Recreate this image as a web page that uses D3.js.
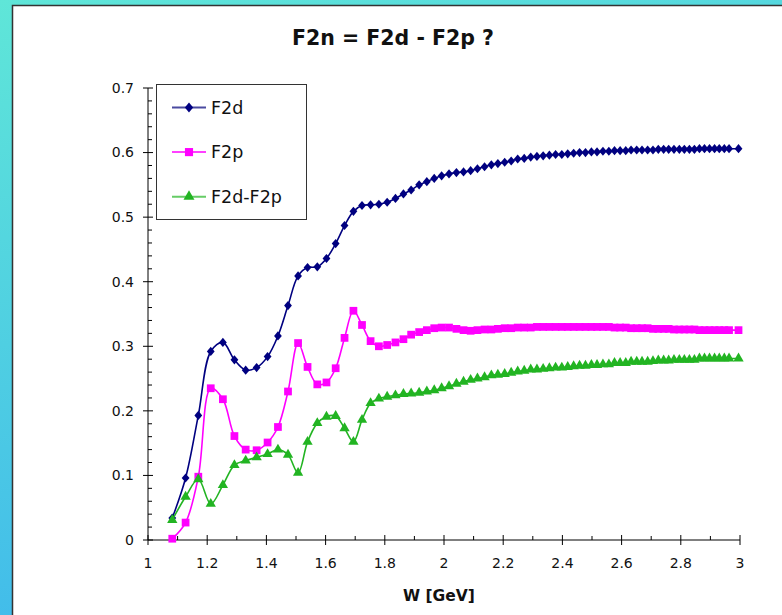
<!DOCTYPE html>
<html>
<head>
<meta charset="utf-8">
<script src="https://cdn.jsdelivr.net/npm/d3@7"></script>
<style>
  body { margin: 0; overflow: hidden; }
  svg { display: block; }
  text { font-family: "DejaVu Sans", Verdana, sans-serif; fill: #111; }
</style>
</head>
<body>
<script>
// W values [GeV]
var wValues = [1.082, 1.127, 1.170, 1.212, 1.253, 1.292, 1.330, 1.367, 1.404, 1.439,
  1.473, 1.507, 1.539, 1.572, 1.603, 1.634, 1.664, 1.694, 1.723, 1.752,
  1.780, 1.808, 1.836, 1.863, 1.889, 1.916, 1.942, 1.967, 1.992, 2.017,
  2.042, 2.066, 2.090, 2.113, 2.137, 2.160, 2.182, 2.205, 2.227, 2.249,
  2.271, 2.293, 2.314, 2.335, 2.356, 2.377, 2.398, 2.418, 2.438, 2.458,
  2.478, 2.498, 2.517, 2.537, 2.557, 2.576, 2.595, 2.614, 2.632, 2.651,
  2.669, 2.688, 2.706, 2.724, 2.742, 2.759, 2.777, 2.795, 2.812, 2.829,
  2.846, 2.863, 2.880, 2.897, 2.914, 2.930, 2.947, 2.963, 2.995];

var f2d = [0.034, 0.096, 0.193, 0.292, 0.306, 0.279, 0.263, 0.267, 0.284, 0.316,
  0.363, 0.409, 0.422, 0.423, 0.436, 0.459, 0.487, 0.509, 0.518, 0.519,
  0.520, 0.523, 0.529, 0.536, 0.542, 0.550, 0.555, 0.560, 0.564, 0.567,
  0.569, 0.570, 0.572, 0.575, 0.578, 0.581, 0.583, 0.585, 0.587, 0.590,
  0.591, 0.593, 0.594, 0.595, 0.596, 0.597, 0.597, 0.598, 0.599, 0.600,
  0.600, 0.601, 0.601, 0.602, 0.602, 0.603, 0.603, 0.603, 0.604, 0.604,
  0.604, 0.604, 0.604, 0.605, 0.605, 0.605, 0.605, 0.605, 0.605, 0.605,
  0.605, 0.606, 0.606, 0.606, 0.606, 0.606, 0.606, 0.606, 0.606];

var f2p = [0.002, 0.027, 0.098, 0.235, 0.218, 0.161, 0.140, 0.139, 0.151, 0.175,
  0.230, 0.305, 0.268, 0.241, 0.244, 0.266, 0.313, 0.355, 0.333, 0.308,
  0.300, 0.302, 0.306, 0.311, 0.318, 0.322, 0.325, 0.328, 0.329, 0.329,
  0.327, 0.325, 0.324, 0.325, 0.326, 0.326, 0.327, 0.328, 0.328, 0.329,
  0.329, 0.329, 0.330, 0.330, 0.330, 0.330, 0.330, 0.330, 0.330, 0.330,
  0.330, 0.330, 0.330, 0.330, 0.330, 0.329, 0.329, 0.329, 0.328, 0.328,
  0.328, 0.328, 0.327, 0.327, 0.327, 0.327, 0.326, 0.326, 0.326, 0.326,
  0.326, 0.325, 0.325, 0.325, 0.325, 0.325, 0.325, 0.325, 0.325];

var f2diff = [0.031, 0.067, 0.094, 0.056, 0.085, 0.116, 0.123, 0.128, 0.133, 0.140,
  0.132, 0.104, 0.152, 0.181, 0.191, 0.192, 0.173, 0.152, 0.186, 0.212,
  0.219, 0.222, 0.224, 0.226, 0.227, 0.228, 0.230, 0.232, 0.235, 0.238,
  0.242, 0.245, 0.248, 0.250, 0.252, 0.255, 0.256, 0.257, 0.259, 0.261,
  0.262, 0.264, 0.264, 0.265, 0.266, 0.267, 0.267, 0.268, 0.269, 0.270,
  0.270, 0.271, 0.271, 0.272, 0.272, 0.274, 0.274, 0.274, 0.276, 0.276,
  0.276, 0.276, 0.277, 0.278, 0.278, 0.278, 0.279, 0.279, 0.279, 0.279,
  0.279, 0.281, 0.281, 0.281, 0.281, 0.281, 0.281, 0.281, 0.281];

var seriesNames = ["F2d", "F2p", "F2d-F2p"];
var xTicks = [1, 1.2, 1.4, 1.6, 1.8, 2, 2.2, 2.4, 2.6, 2.8, 3];
var yTicks = [0, 0.1, 0.2, 0.3, 0.4, 0.5, 0.6, 0.7];

var width = 782, height = 615;
var plotLeft = 148, plotRight = 740, plotTop = 88, plotBottom = 540;

var svg = d3.select("body").append("svg")
  .attr("width", width)
  .attr("height", height);

// background gradient + white panel
var defs = svg.append("defs");
var grad = defs.append("linearGradient")
  .attr("id", "bg").attr("x1", "0").attr("y1", "0").attr("x2", "0.35").attr("y2", "1");
grad.append("stop").attr("offset", "0%").attr("stop-color", "#5fe6d8");
grad.append("stop").attr("offset", "100%").attr("stop-color", "#3fb8ec");

svg.append("rect").attr("width", width).attr("height", height).attr("fill", "url(#bg)");
svg.append("rect")
  .attr("x", 12.5).attr("y", 5.5)
  .attr("width", width).attr("height", height)
  .attr("fill", "#fff").attr("stroke", "#333").attr("stroke-width", 1.5);

var x = d3.scaleLinear().domain([1, 3]).range([plotLeft, plotRight]);
var y = d3.scaleLinear().domain([0, 0.7]).range([plotBottom, plotTop]);

// title
svg.append("text")
  .attr("x", 393).attr("y", 45)
  .attr("text-anchor", "middle")
  .style("font-size", "20.5px").style("font-weight", "bold")
  .text("F2n = F2d - F2p ?");

svg.append("text")
  .attr("x", 439).attr("y", 601)
  .attr("text-anchor", "middle")
  .style("font-size", "15.5px").style("font-weight", "bold")
  .text("W [GeV]");

// x axis line
svg.append("line")
  .attr("x1", plotLeft).attr("x2", plotRight).attr("y1", plotBottom).attr("y2", plotBottom)
  .attr("stroke", "#000");

// minor x ticks (above axis)
svg.append("g").selectAll("line")
  .data(d3.range(11, 30, 2).map(function(d) { return d / 10; }))
  .enter().append("line")
  .attr("x1", function(d) { return x(d); }).attr("x2", function(d) { return x(d); })
  .attr("y1", plotBottom - 4).attr("y2", plotBottom)
  .attr("stroke", "#000");

// major x ticks
var xt = svg.append("g").selectAll("g")
  .data(xTicks).enter().append("g")
  .attr("transform", function(d) { return "translate(" + x(d) + ",0)"; });
xt.append("line").attr("y1", plotBottom - 5).attr("y2", plotBottom + 5).attr("stroke", "#000");
xt.append("text")
  .attr("y", plotBottom + 28)
  .attr("text-anchor", "middle")
  .style("font-size", "14px")
  .text(function(d) { return d; });

// y axis line
svg.append("line")
  .attr("x1", plotLeft).attr("x2", plotLeft).attr("y1", plotTop).attr("y2", plotBottom)
  .attr("stroke", "#000");

svg.append("g").selectAll("line")
  .data(d3.range(0, 36).map(function(d) { return d * 0.02; }).filter(function(d, i) { return i % 5 !== 0; }))
  .enter().append("line")
  .attr("x1", plotLeft).attr("x2", plotLeft + 4)
  .attr("y1", function(d) { return y(d); }).attr("y2", function(d) { return y(d); })
  .attr("stroke", "#000");

var yt = svg.append("g").selectAll("g")
  .data(yTicks).enter().append("g")
  .attr("transform", function(d) { return "translate(0," + y(d) + ")"; });
yt.append("line").attr("x1", plotLeft - 5).attr("x2", plotLeft + 5).attr("stroke", "#000");
yt.append("text")
  .attr("x", plotLeft - 14)
  .attr("dy", "0.35em")
  .attr("text-anchor", "end")
  .style("font-size", "14px")
  .text(function(d) { return d; });

// series
var colors = ["#000080", "#ff00ff", "#22b422"];
var symbols = [d3.symbolSquare, d3.symbolSquare, d3.symbolTriangle];
var symSizes = [42, 60, 46];
// diamonds = rotated, slightly narrowed squares
var symTransforms = ["scale(0.85,1) rotate(45)", "", ""];
var allSeries = [f2d, f2p, f2diff];

var line = d3.line()
  .x(function(d) { return x(d[0]); })
  .y(function(d) { return y(d[1]); })
  .curve(d3.curveCatmullRom.alpha(0.5));

allSeries.forEach(function(vals, i) {
  var pts = wValues.map(function(w, j) { return [w, vals[j]]; });
  svg.append("path")
    .datum(pts)
    .attr("fill", "none")
    .attr("stroke", colors[i])
    .attr("stroke-width", 1.6)
    .attr("d", line);
  svg.append("g").selectAll("path")
    .data(pts).enter().append("path")
    .attr("transform", function(d) {
      return "translate(" + x(d[0]) + "," + y(d[1]) + ")" + symTransforms[i];
    })
    .attr("d", d3.symbol().type(symbols[i]).size(symSizes[i]))
    .attr("fill", colors[i]);
});

// legend
var lg = svg.append("g");
lg.append("rect")
  .attr("x", 156.5).attr("y", 84.5)
  .attr("width", 150).attr("height", 135)
  .attr("fill", "#fff").attr("stroke", "#333");
var legendColors = ["#4a4aa0", "#ff40ff", "#66cc66"];
seriesNames.forEach(function(name, i) {
  var ly = 107.5 + i * 44.6;
  lg.append("line")
    .attr("x1", 172).attr("x2", 206)
    .attr("y1", ly).attr("y2", ly)
    .attr("stroke", legendColors[i]).attr("stroke-width", 2);
  lg.append("path")
    .attr("transform", "translate(189," + ly + ")" + symTransforms[i])
    .attr("d", d3.symbol().type(symbols[i]).size(symSizes[i] + 6))
    .attr("fill", colors[i]);
  lg.append("text")
    .attr("x", 211).attr("y", ly)
    .attr("dy", "0.36em")
    .style("font-size", "17.5px")
    .text(name);
});
</script>
</body>
</html>
